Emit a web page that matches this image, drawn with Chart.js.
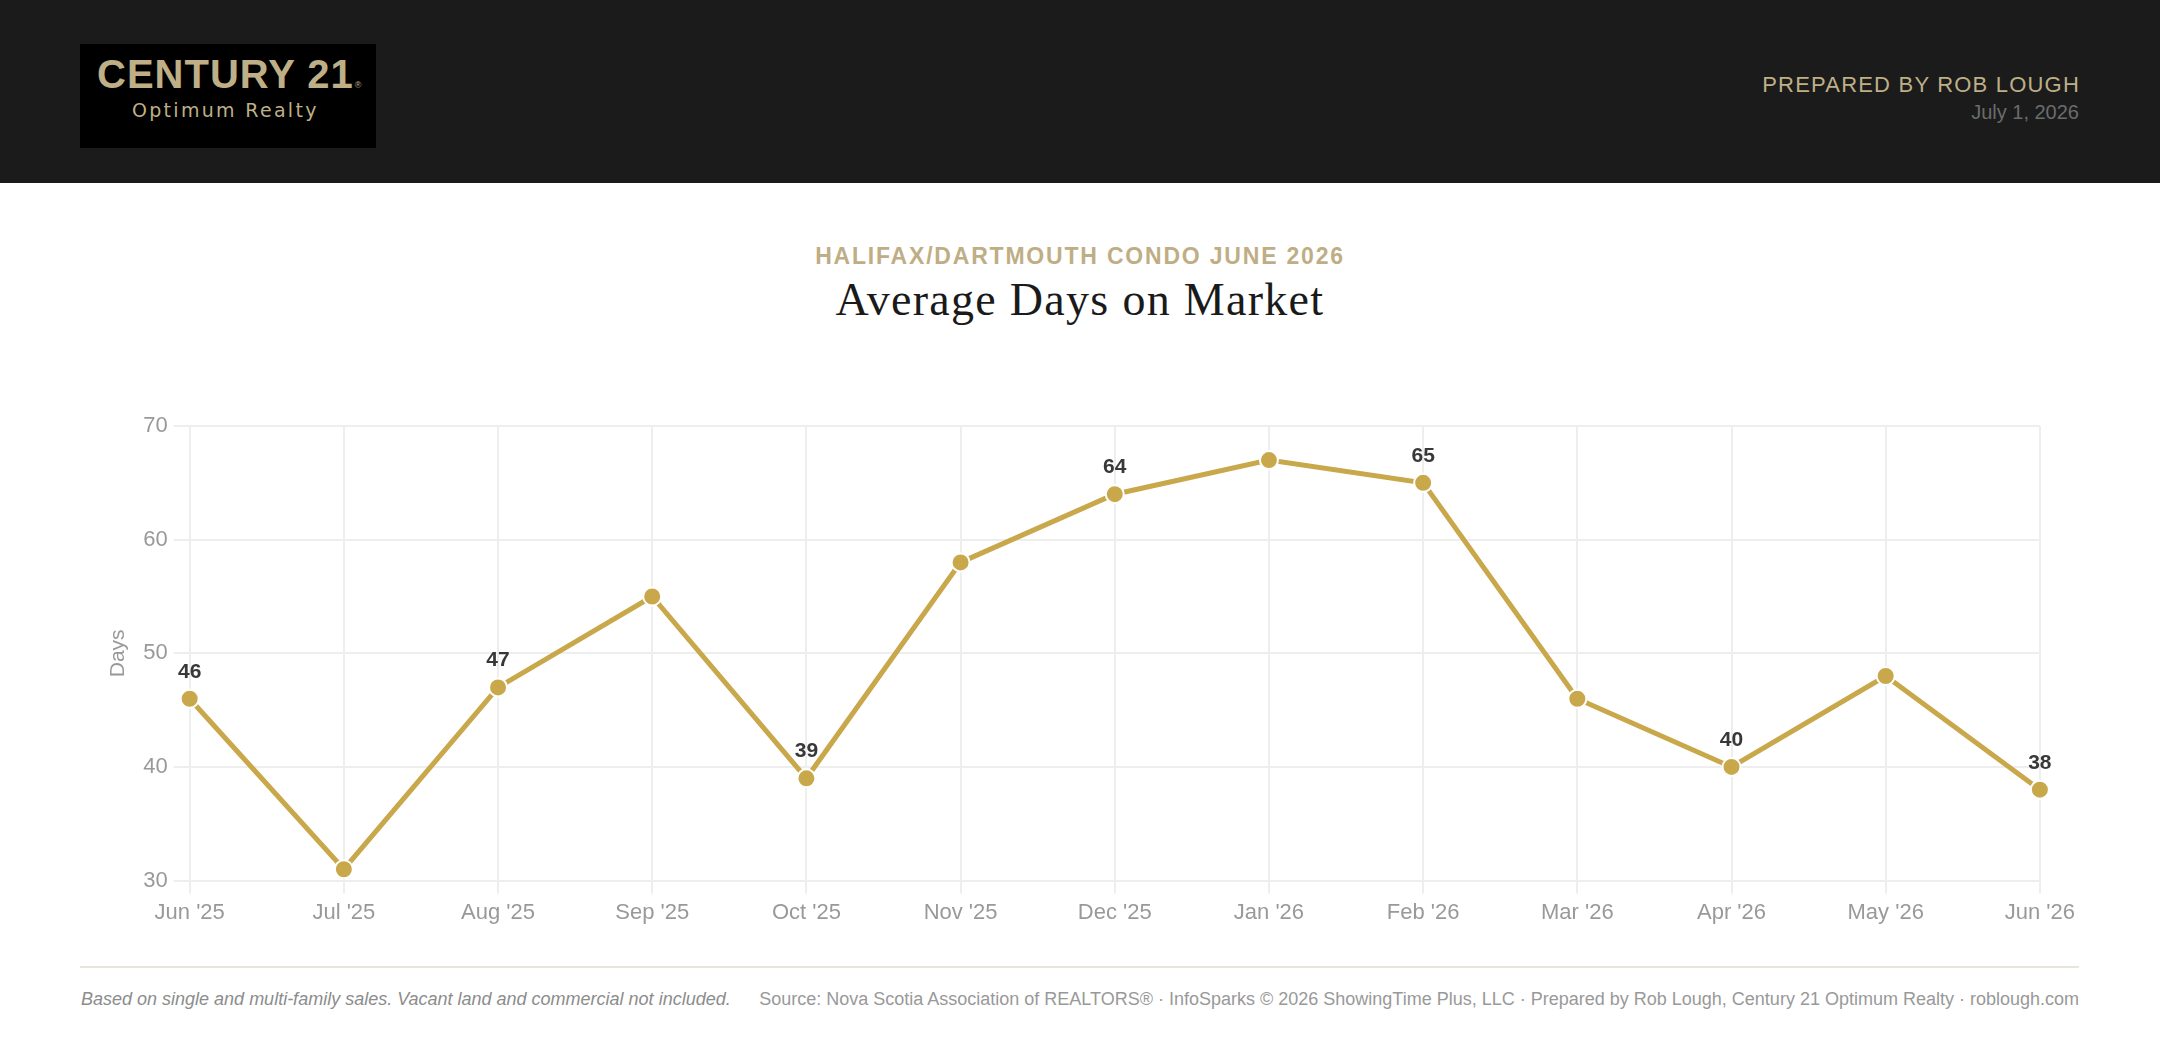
<!DOCTYPE html>
<html>
<head>
<meta charset="utf-8">
<title>Average Days on Market</title>
<script src="https://cdn.jsdelivr.net/npm/chart.js@4/dist/chart.umd.min.js"></script>
<style>
  html, body { margin: 0; padding: 0; background: #fff; }
  body { width: 2160px; height: 1048px; position: relative; overflow: hidden; font-family: "Liberation Sans", Arial, sans-serif; }
  .hdr { position: absolute; left: 0; top: 0; width: 2160px; height: 183px; background: #1b1b1b; }
  .logo { position: absolute; left: 80px; top: 44px; width: 296px; height: 104px; background: #000; }
  .logo .c21 { position: absolute; left: 17px; top: 10px; font: bold 40px/40px "Liberation Sans", Arial, sans-serif; letter-spacing: 1px; color: #beaf87; white-space: nowrap; }
  .logo .c21 sup { font-size: 9px; font-weight: normal; vertical-align: 0; margin-left: 1px; }
  .logo .opt { position: absolute; left: 52px; top: 57px; font: 19px/19px "DejaVu Sans", sans-serif; letter-spacing: 2.3px; color: #beaf87; white-space: nowrap; }
  .prep { position: absolute; right: 80px; top: 74px; font: 22px/22px "Liberation Sans", Arial, sans-serif; letter-spacing: 1.2px; color: #beaf87; white-space: nowrap; }
  .date { position: absolute; right: 81px; top: 102px; font: 20px/20px "Liberation Sans", Arial, sans-serif; color: #6b6b6b; white-space: nowrap; }
  .sub { position: absolute; left: 0; width: 2160px; top: 245px; text-align: center; font: bold 23px/23px "Liberation Sans", Arial, sans-serif; letter-spacing: 1.8px; color: #bfae85; }
  .ttl { position: absolute; left: 0; width: 2160px; top: 277px; text-align: center; font: 46px/46px "Liberation Serif", "Times New Roman", serif; letter-spacing: 1.3px; color: #1a1a1a; }
  .chart { position: absolute; left: 80px; top: 406px; width: 2001px; height: 526px; }
  .rule { position: absolute; left: 80px; top: 966px; width: 1999px; height: 2px; background: #e9e5db; }
  .note { position: absolute; left: 81px; top: 990px; font: italic 18px/18px "Liberation Sans", Arial, sans-serif; color: #8c8c8c; white-space: nowrap; }
  .src { position: absolute; right: 81px; top: 990px; font: 18px/18px "Liberation Sans", Arial, sans-serif; color: #999; white-space: nowrap; }
</style>
</head>
<body>
<div class="hdr">
  <div class="logo">
    <div class="c21">CENTURY 21<sup>®</sup></div>
    <div class="opt">Optimum Realty</div>
  </div>
  <div class="prep">PREPARED BY ROB LOUGH</div>
  <div class="date">July 1, 2026</div>
</div>

<div class="sub">HALIFAX/DARTMOUTH CONDO JUNE 2026</div>
<div class="ttl">Average Days on Market</div>

<div class="chart"><canvas id="chart-dom"></canvas></div>

<div class="rule"></div>
<div class="note">Based on single and multi-family sales. Vacant land and commercial not included.</div>
<div class="src">Source: Nova Scotia Association of REALTORS® · InfoSparks © 2026 ShowingTime Plus, LLC · Prepared by Rob Lough, Century 21 Optimum Realty · roblough.com</div>

<script>
// Average days on market, Halifax/Dartmouth condo, Jun '25 – Jun '26

const months = ["Jun '25", "Jul '25", "Aug '25", "Sep '25", "Oct '25", "Nov '25", "Dec '25",
  "Jan '26", "Feb '26", "Mar '26", "Apr '26", "May '26", "Jun '26"];
const avgDays = [46, 31, 47, 55, 39, 58, 64, 67, 65, 46, 40, 48, 38];
// value labels are only printed on every other month
const labelled = [true, false, true, false, true, false, true, false, true, false, true, false, true];
const yTicks = { min: 30, max: 70, step: 10 };

const GOLD = '#c9a84c';

// Draws the value above each labelled point, using the point positions Chart.js computed
const pointValues = {
  id: 'pointValues',
  afterDatasetsDraw(chart) {
    const ctx = chart.ctx;
    const meta = chart.getDatasetMeta(0);
    ctx.save();
    ctx.font = 'bold 21px "Liberation Sans", Arial, sans-serif';
    ctx.fillStyle = '#383838';
    ctx.textAlign = 'center';
    ctx.textBaseline = 'alphabetic';
    meta.data.forEach((pt, i) => {
      if (!labelled[i]) return;
      ctx.fillText(String(avgDays[i]), pt.x, pt.y - 21);
    });
    ctx.restore();
  }
};

Chart.defaults.font.family = '"Liberation Sans", Arial, sans-serif';

new Chart(document.getElementById('chart-dom'), {
  type: 'line',
  data: {
    labels: months,
    datasets: [{
      label: 'Days',
      data: avgDays,
      borderColor: GOLD,
      backgroundColor: GOLD,
      borderWidth: 5,
      tension: 0,
      fill: false,
      pointRadius: 9,
      pointHoverRadius: 9,
      pointBackgroundColor: GOLD,
      pointBorderColor: '#fff',
      pointBorderWidth: 2,
    }],
  },
  options: {
    responsive: true,
    maintainAspectRatio: false,
    animation: false,
    layout: { padding: { left: 22, top: 20, right: 0, bottom: 0 } },
    plugins: {
      legend: { display: false },
      tooltip: { enabled: false },
    },
    scales: {
      x: {
        grid: { color: '#eeeeee', lineWidth: 2, tickLength: 13 },
        border: { color: '#eeeeee', width: 2 },
        ticks: { color: '#999', font: { size: 22 }, padding: 6, maxRotation: 0, autoSkip: false },
      },
      y: {
        min: yTicks.min,
        max: yTicks.max,
        grid: { color: '#eeeeee', lineWidth: 2, tickLength: 16 },
        border: { color: '#eeeeee', width: 2 },
        ticks: { color: '#999', font: { size: 22 }, padding: 6, stepSize: yTicks.step },
        title: { display: true, text: 'Days', color: '#999', font: { size: 21 }, padding: { top: 4, bottom: 6 } },
      },
    },
  },
  plugins: [pointValues],
});
</script>
</body>
</html>
